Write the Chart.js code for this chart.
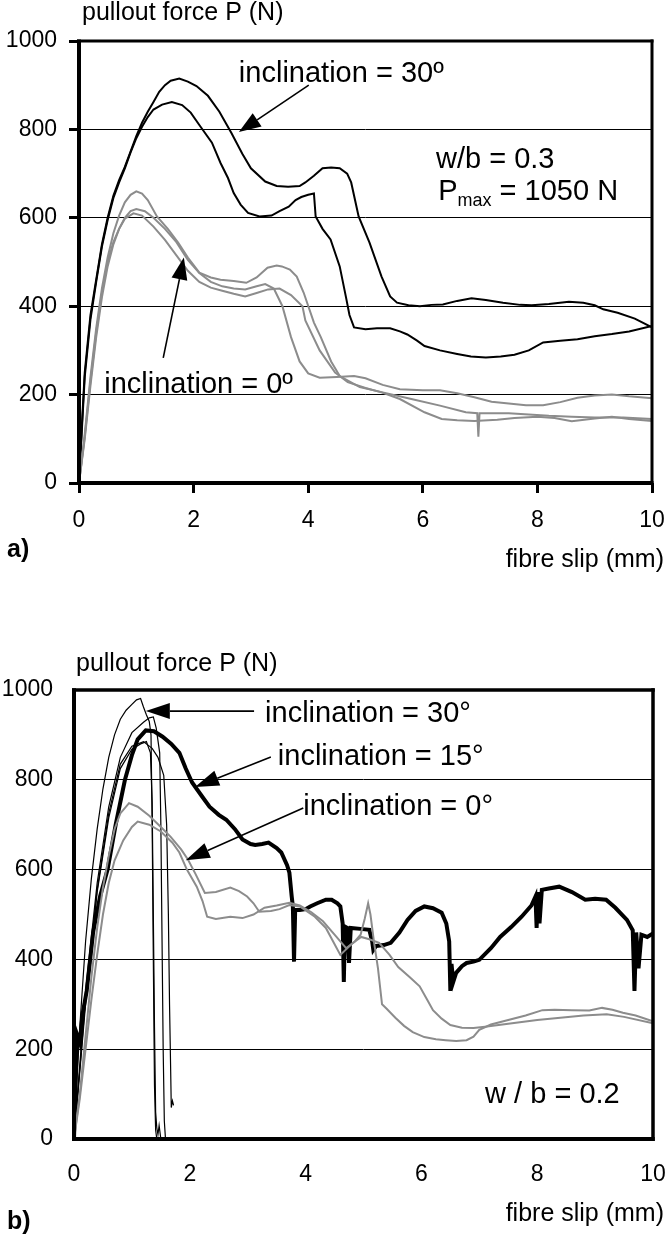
<!DOCTYPE html>
<html>
<head>
<meta charset="utf-8">
<script src="https://cdn.jsdelivr.net/npm/chart.js@4.4.1/dist/chart.umd.min.js"></script>
<style>
  html, body { margin: 0; padding: 0; background: #fff; }
  #wrap { position: relative; width: 665px; height: 1236px; overflow: hidden; }
  canvas { position: absolute; left: 0; }
  #chartA { top: 0; }
  #chartB { top: 625px; }
</style>
</head>
<body>
<div id="wrap">
  <canvas id="chartA" width="665" height="600"></canvas>
  <canvas id="chartB" width="665" height="611"></canvas>
</div>
<script>
// ---- panel a) w/b = 0.3 ----
const xTicks = [0, 2, 4, 6, 8, 10];
const yTicks = [0, 200, 400, 600, 800, 1000];

const a30UpperSlip  = [0, 0.05, 0.1, 0.2, 0.3, 0.4, 0.5, 0.6, 0.7, 0.8, 0.9, 1.0, 1.1, 1.2, 1.3, 1.4, 1.5, 1.6, 1.75, 1.9, 2.05, 2.25, 2.45, 2.66, 2.85, 3.0, 3.25, 3.45, 3.65, 3.85, 3.95, 4.1, 4.25, 4.4, 4.55, 4.68, 4.75, 4.88, 5.07, 5.28, 5.43, 5.55, 5.75, 5.95, 6.15, 6.35, 6.6, 6.85, 7.1, 7.4, 7.7, 7.9, 8.2, 8.55, 8.8, 9.0, 9.15, 9.4, 9.7, 10];
const a30UpperForce = [0, 130, 250, 380, 460, 540, 600, 650, 685, 715, 750, 785, 815, 840, 862, 885, 900, 910, 915, 908, 898, 876, 840, 792, 745, 712, 682, 672, 670, 672, 680, 695, 712, 714, 712, 700, 680, 603, 544, 467, 422, 408, 402, 400, 403, 404, 412, 418, 414, 408, 403, 402, 405, 410, 408, 402, 393, 385, 372, 352];

const a30LowerSlip  = [0, 0.05, 0.1, 0.2, 0.3, 0.4, 0.5, 0.6, 0.7, 0.8, 0.9, 1.0, 1.1, 1.2, 1.3, 1.45, 1.62, 1.8, 1.95, 2.1, 2.32, 2.47, 2.6, 2.7, 2.82, 2.95, 3.15, 3.36, 3.5, 3.66, 3.78, 3.88, 4.0, 4.1, 4.13, 4.25, 4.39, 4.55, 4.66, 4.72, 4.8, 5.0, 5.2, 5.43, 5.6, 5.73, 5.9, 6.03, 6.3, 6.6, 6.84, 7.1, 7.36, 7.6, 7.85, 8.1, 8.4, 8.7, 9.0, 9.3, 9.6, 10];
const a30LowerForce = [0, 120, 240, 370, 455, 535, 595, 645, 680, 712, 748, 780, 806, 828, 845, 856, 862, 855, 838, 810, 770, 724, 690, 656, 630, 611, 603, 605, 615, 625, 640, 647, 652, 655, 603, 575, 551, 490, 420, 380, 352, 348, 350, 350, 343, 336, 322, 310, 300, 292, 286, 284, 286, 290, 300, 318, 322, 325, 332, 337, 343, 355];

const a0FirstSlip  = [0, 0.1, 0.2, 0.3, 0.4, 0.5, 0.6, 0.7, 0.8, 0.9, 1.0, 1.1, 1.2, 1.36, 1.55, 1.73, 1.9, 2.1, 2.3, 2.47, 2.7, 2.92, 3.1, 3.29, 3.45, 3.54, 3.68, 3.8, 3.92, 4.1, 4.22, 4.4, 4.55, 4.9, 5.3, 5.8, 6.3, 6.75, 6.95, 6.97, 6.99, 7.5, 8.2, 8.6, 9.0, 9.5, 10];
const a0FirstForce = [0, 110, 240, 350, 440, 510, 565, 605, 635, 652, 660, 655, 640, 603, 575, 544, 510, 476, 465, 460, 457, 453, 465, 487, 492, 490, 483, 467, 431, 363, 330, 275, 242, 217, 205, 190, 175, 160, 158, 105, 158, 158, 152, 150, 148, 148, 145];

const a0SecondSlip  = [0, 0.1, 0.2, 0.3, 0.4, 0.5, 0.6, 0.7, 0.8, 0.9, 1.0, 1.15, 1.3, 1.5, 1.7, 1.9, 2.1, 2.3, 2.5, 2.7, 2.9, 3.1, 3.25, 3.4, 3.55, 3.7, 3.85, 4.0, 4.2, 4.5, 4.8, 5.0, 5.3, 5.6, 6.0, 6.3, 6.6, 6.9, 7.2, 7.5, 7.8, 8.1, 8.4, 8.7, 9.0, 9.3, 9.6, 10];
const a0SecondForce = [0, 100, 220, 330, 420, 490, 540, 575, 600, 615, 620, 615, 600, 575, 545, 505, 475, 455, 445, 440, 438, 445, 450, 440, 400, 330, 275, 248, 238, 240, 242, 237, 222, 212, 210, 210, 203, 194, 184, 180, 176, 176, 183, 193, 198, 200, 196, 192];

const a0ThirdSlip  = [0, 0.1, 0.2, 0.3, 0.4, 0.5, 0.6, 0.7, 0.8, 0.95, 1.1, 1.3, 1.5, 1.7, 1.9, 2.1, 2.3, 2.5, 2.7, 2.9, 3.1, 3.3, 3.5, 3.7, 3.9, 3.95, 4.2, 4.47, 4.69, 5.0, 5.28, 5.6, 6.03, 6.33, 6.6, 6.9, 7.3, 7.6, 8.0, 8.3, 8.6, 9.0, 9.3, 9.6, 10];
const a0ThirdForce = [0, 105, 230, 340, 430, 500, 545, 575, 598, 610, 605, 580, 550, 515, 480, 455, 442, 435, 428, 422, 430, 438, 440, 425, 400, 368, 300, 250, 228, 215, 205, 190, 160, 145, 142, 140, 143, 147, 150, 147, 140, 146, 150, 145, 140];

// ---- panel b) w/b = 0.2 ----
const b15Slip  = [0, 0.03, 0.06, 0.1, 0.15, 0.22, 0.33, 0.45, 0.58, 0.72, 0.88, 1.0, 1.1, 1.24, 1.38, 1.53, 1.68, 1.82, 1.93, 2.04, 2.2, 2.34, 2.5, 2.63, 2.78, 2.91, 3.05, 3.13, 3.25, 3.36, 3.5, 3.58, 3.68, 3.72, 3.76, 3.78, 3.8, 3.82, 3.9, 4.0, 4.08, 4.2, 4.35, 4.45, 4.55, 4.6, 4.64, 4.66, 4.68, 4.72, 4.75, 4.78, 4.95, 5.1, 5.15, 5.17, 5.22, 5.35, 5.47, 5.62, 5.76, 5.9, 6.05, 6.2, 6.35, 6.43, 6.48, 6.5, 6.52, 6.55, 6.6, 6.7, 6.78, 6.9, 7.0, 7.2, 7.36, 7.55, 7.73, 7.9, 7.97, 7.99, 8.01, 8.04, 8.08, 8.2, 8.38, 8.6, 8.83, 9.0, 9.19, 9.35, 9.55, 9.65, 9.68, 9.71, 9.75, 9.8, 9.9, 10];
const b15Force = [0, 150, 230, 215, 280, 330, 460, 540, 600, 700, 800, 855, 890, 910, 908, 896, 880, 860, 825, 794, 765, 740, 722, 711, 690, 667, 657, 655, 657, 660, 648, 638, 610, 593, 540, 518, 395, 510, 510, 512, 518, 525, 533, 533, 525, 518, 480, 350, 473, 470, 392, 470, 468, 466, 440, 421, 430, 432, 437, 460, 488, 508, 518, 514, 504, 480, 440, 330, 390, 350, 370, 385, 392, 395, 399, 425, 450, 472, 495, 520, 540, 470, 550, 480, 555, 558, 562, 550, 533, 535, 533, 515, 488, 465, 330, 460, 380, 455, 450, 458];

const b30FirstSlip  = [0, 0.1, 0.2, 0.3, 0.4, 0.5, 0.6, 0.7, 0.8, 0.9, 1.0, 1.08, 1.15, 1.2, 1.25, 1.3, 1.33, 1.35, 1.37, 1.39, 1.41, 1.43];
const b30FirstForce = [0, 250, 440, 580, 690, 780, 850, 900, 935, 955, 968, 978, 981, 962, 945, 930, 900, 700, 400, 120, 20, 0];
const b30SecondSlip  = [0, 0.2, 0.4, 0.6, 0.8, 1.0, 1.2, 1.3, 1.37, 1.42, 1.48, 1.5, 1.52, 1.54, 1.56, 1.58];
const b30SecondForce = [0, 330, 570, 740, 850, 905, 928, 938, 940, 915, 860, 700, 450, 200, 40, 0];
const b30ThirdSlip  = [0, 0.2, 0.4, 0.6, 0.8, 1.0, 1.15, 1.25, 1.32, 1.35, 1.37, 1.39, 1.41, 1.43, 1.45, 1.47, 1.5];
const b30ThirdForce = [0, 300, 550, 715, 825, 868, 880, 885, 860, 750, 500, 250, 60, 25, 10, 30, 0];
const b30FourthSlip  = [0, 0.2, 0.4, 0.6, 0.8, 1.0, 1.2, 1.35, 1.45, 1.55, 1.6, 1.63, 1.65, 1.67, 1.68, 1.7, 1.72];
const b30FourthForce = [0, 310, 555, 725, 835, 875, 885, 870, 850, 810, 700, 500, 300, 150, 70, 85, 75];

const b0FirstSlip  = [0, 0.1, 0.2, 0.3, 0.4, 0.5, 0.6, 0.7, 0.8, 0.95, 1.1, 1.3, 1.5, 1.67, 1.85, 1.97, 2.1, 2.26, 2.45, 2.7, 2.85, 2.99, 3.1, 3.2, 3.4, 3.55, 3.72, 3.9, 4.16, 4.35, 4.6, 4.8, 4.96, 5.1, 5.27, 5.45, 5.6, 5.8, 5.97, 6.1, 6.2, 6.35, 6.5, 6.7, 6.9, 7.1, 7.4, 7.7, 8.0, 8.4, 8.8, 9.2, 9.5, 10];
const b0FirstForce = [0, 100, 230, 360, 470, 560, 630, 690, 725, 748, 740, 720, 695, 673, 645, 622, 590, 548, 550, 560, 552, 540, 525, 506, 508, 512, 521, 518, 495, 470, 410, 435, 450, 445, 437, 410, 383, 360, 340, 310, 287, 268, 254, 248, 247, 250, 255, 260, 265, 270, 275, 278, 272, 258];
const b0SecondSlip  = [0, 0.1, 0.2, 0.3, 0.4, 0.5, 0.6, 0.7, 0.85, 1.0, 1.1, 1.3, 1.5, 1.7, 1.82, 1.95, 2.12, 2.22, 2.3, 2.45, 2.7, 2.91, 3.1, 3.29, 3.5, 3.72, 3.9, 4.1, 4.3, 4.5, 4.6, 4.7, 4.85, 4.95, 5.02, 5.08, 5.12, 5.18, 5.25, 5.32, 5.4, 5.55, 5.7, 5.85, 6.05, 6.25, 6.42, 6.6, 6.78, 6.9, 7.0, 7.2, 7.5, 7.8, 8.09, 8.3, 8.6, 8.9, 9.12, 9.3, 9.48, 9.7, 10];
const b0SecondForce = [0, 90, 200, 310, 410, 500, 570, 620, 665, 695, 707, 700, 685, 660, 638, 600, 562, 530, 495, 490, 495, 492, 500, 515, 520, 526, 520, 505, 485, 455, 440, 425, 440, 455, 490, 525, 500, 440, 380, 300, 290, 270, 252, 238, 227, 222, 220, 218, 220, 228, 243, 255, 265, 275, 287, 288, 287, 286, 292, 288, 281, 275, 262];

const FONT = "'Liberation Sans', Arial, Helvetica, sans-serif";
const GRAY = '#8c8c8c';
Chart.defaults.font.family = FONT;
Chart.defaults.color = '#000';

function pts(xs, ys) {
    return xs.map((x, i) => ({ x: x, y: ys[i] }));
}

function series(xs, ys, color, width) {
    return {
        data: pts(xs, ys),
        borderColor: color,
        borderWidth: width,
        showLine: true,
        pointRadius: 0,
        tension: 0,
        fill: false
    };
}

function arrow(ctx, x1, y1, x2, y2, len, half) {
    const ang = Math.atan2(y2 - y1, x2 - x1);
    const bx = x2 - Math.cos(ang) * len;
    const by = y2 - Math.sin(ang) * len;
    ctx.beginPath();
    ctx.moveTo(x1, y1);
    ctx.lineTo(bx, by);
    ctx.lineWidth = 1.6;
    ctx.stroke();
    ctx.beginPath();
    ctx.moveTo(x2, y2);
    ctx.lineTo(bx + Math.sin(ang) * half, by - Math.cos(ang) * half);
    ctx.lineTo(bx - Math.sin(ang) * half, by + Math.cos(ang) * half);
    ctx.closePath();
    ctx.fill();
}

// frame, titles, notes and arrows
const decor = {
    id: 'decor',
    afterDatasetsDraw(chart, args, o) {
        const { ctx, chartArea: a } = chart;
        const f = o.frame;
        ctx.save();
        ctx.fillStyle = '#000';
        const w = a.right - a.left + f.left / 2 + f.right / 2;
        const h = a.bottom - a.top + f.top / 2 + f.bottom / 2;
        ctx.fillRect(a.left - f.left / 2, a.top - f.top / 2, w, f.top);
        ctx.fillRect(a.left - f.left / 2, a.bottom - f.bottom / 2, w, f.bottom);
        ctx.fillRect(a.left - f.left / 2, a.top - f.top / 2, f.left, h);
        ctx.fillRect(a.right - f.right / 2, a.top - f.top / 2, f.right, h);
        ctx.restore();
    },
    afterDraw(chart, args, o) {
        const { ctx, scales: { x, y } } = chart;
        ctx.save();
        ctx.fillStyle = '#000';
        ctx.strokeStyle = '#000';
        ctx.textBaseline = 'alphabetic';

        ctx.font = o.titleSize + 'px ' + FONT;
        ctx.textAlign = 'left';
        ctx.fillText(o.yTitle.text, o.yTitle.px, o.yTitle.py);
        ctx.textAlign = 'right';
        ctx.fillText(o.xTitle.text, o.xTitle.px, o.xTitle.py);
        ctx.textAlign = 'left';
        ctx.font = 'bold ' + o.titleSize + 'px ' + FONT;
        ctx.fillText(o.panel.text, o.panel.px, o.panel.py);

        o.notes.forEach(n => {
            let cx = x.getPixelForValue(n.x);
            const cy = y.getPixelForValue(n.y);
            n.parts.forEach(p => {
                const size = p.sub ? o.noteSize * 0.62 : o.noteSize;
                ctx.font = size + 'px ' + FONT;
                ctx.fillText(p.t, cx, cy + (p.sub ? o.noteSize * 0.2 : 0));
                cx += ctx.measureText(p.t).width;
            });
        });

        o.arrows.forEach(r => {
            arrow(ctx, x.getPixelForValue(r.from[0]), y.getPixelForValue(r.from[1]),
                x.getPixelForValue(r.to[0]), y.getPixelForValue(r.to[1]), o.headLen, o.headHalf);
        });
        ctx.restore();
    }
};

function makeChart(id, datasets, look) {
    const ctx = document.getElementById(id).getContext('2d');
    return new Chart(ctx, {
        type: 'scatter',
        data: { datasets: datasets },
        plugins: [decor],
        options: {
            responsive: false,
            animation: false,
            devicePixelRatio: 1,
            layout: { padding: look.padding },
            plugins: {
                legend: { display: false },
                tooltip: { enabled: false },
                decor: look.decor
            },
            scales: {
                x: {
                    type: 'linear',
                    min: 0, max: 10,
                    afterBuildTicks: s => { s.ticks = xTicks.map(v => ({ value: v })); },
                    afterFit: s => { s.height = look.xHeight; s.paddingLeft = 0; s.paddingRight = 0; },
                    border: { display: false },
                    grid: {
                        drawOnChartArea: false,
                        drawTicks: look.ticks,
                        tickLength: 10,
                        tickWidth: 3,
                        tickColor: '#000'
                    },
                    ticks: { font: { size: look.tickSize }, padding: look.xPad, maxRotation: 0, callback: v => String(v) }
                },
                y: {
                    type: 'linear',
                    min: 0, max: 1000,
                    afterBuildTicks: s => { s.ticks = yTicks.map(v => ({ value: v })); },
                    afterFit: s => { s.width = look.yWidth; },
                    border: { display: false },
                    grid: {
                        color: '#000',
                        lineWidth: 1,
                        drawTicks: look.ticks,
                        tickLength: 10,
                        tickWidth: 3,
                        tickColor: '#000'
                    },
                    ticks: { font: { size: look.tickSize }, padding: look.yPad, callback: v => String(v) }
                }
            }
        }
    });
}

makeChart('chartA', [
    series(a0FirstSlip, a0FirstForce, GRAY, 2),
    series(a0SecondSlip, a0SecondForce, GRAY, 2),
    series(a0ThirdSlip, a0ThirdForce, GRAY, 2),
    series(a30UpperSlip, a30UpperForce, '#000', 2),
    series(a30LowerSlip, a30LowerForce, '#000', 2)
], {
    padding: { top: 41, right: 13, left: 0, bottom: 0 },
    xHeight: 117, yWidth: 79, ticks: true, tickSize: 23, xPad: 14, yPad: 12,
    decor: {
        frame: { left: 4, bottom: 4, top: 3, right: 3 },
        titleSize: 25, noteSize: 29, headLen: 22, headHalf: 8,
        yTitle: { text: 'pullout force P (N)', px: 82, py: 20 },
        xTitle: { text: 'fibre slip (mm)', px: 664, py: 567 },
        panel: { text: 'a)', px: 7, py: 557 },
        notes: [
            { x: 2.79, y: 907, parts: [{ t: 'inclination = 30º' }] },
            { x: 6.23, y: 713, parts: [{ t: 'w/b = 0.3' }] },
            { x: 6.27, y: 640, parts: [{ t: 'P' }, { t: 'max', sub: true }, { t: ' = 1050 N' }] },
            { x: 0.44, y: 204, parts: [{ t: 'inclination = 0º' }] }
        ],
        arrows: [
            { from: [4.01, 900], to: [2.79, 794] },
            { from: [1.47, 283], to: [1.83, 510] }
        ]
    }
});

makeChart('chartB', [
    series(b0FirstSlip, b0FirstForce, GRAY, 2),
    series(b0SecondSlip, b0SecondForce, GRAY, 2),
    series(b30FirstSlip, b30FirstForce, '#000', 1.2),
    series(b30SecondSlip, b30SecondForce, '#000', 1.2),
    series(b30ThirdSlip, b30ThirdForce, '#000', 1.2),
    series(b30FourthSlip, b30FourthForce, '#000', 1.2),
    series(b15Slip, b15Force, '#000', 4)
], {
    padding: { top: 65, right: 12, left: 0, bottom: 0 },
    xHeight: 97, yWidth: 74, ticks: false, tickSize: 23, xPad: 22, yPad: 21,
    decor: {
        frame: { left: 4, bottom: 4, top: 3.5, right: 3.5 },
        titleSize: 25, noteSize: 29, headLen: 24, headHalf: 8,
        yTitle: { text: 'pullout force P (N)', px: 76, py: 46 },
        xTitle: { text: 'fibre slip (mm)', px: 664, py: 596 },
        panel: { text: 'b)', px: 7, py: 604 },
        notes: [
            { x: 3.3, y: 929, parts: [{ t: 'inclination = 30°' }] },
            { x: 3.52, y: 833, parts: [{ t: 'inclination = 15°' }] },
            { x: 3.96, y: 722, parts: [{ t: 'inclination = 0°' }] },
            { x: 7.1, y: 80, parts: [{ t: 'w / b = 0.2' }] }
        ],
        arrows: [
            { from: [3.11, 953], to: [1.24, 953] },
            { from: [3.4, 851], to: [2.09, 784] },
            { from: [3.96, 737], to: [1.93, 621] }
        ]
    }
});
</script>
</body>
</html>
